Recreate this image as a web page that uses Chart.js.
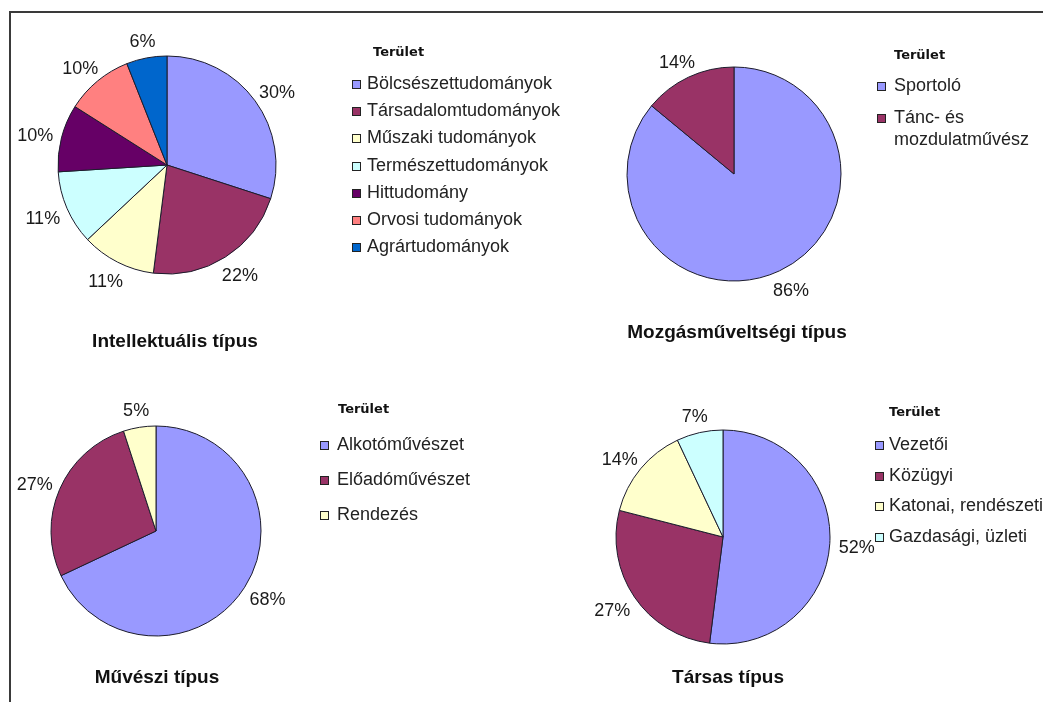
<!DOCTYPE html>
<html>
<head>
<meta charset="utf-8">
<script src="https://cdn.jsdelivr.net/npm/chart.js@4"></script>
<style>
  html, body { margin: 0; padding: 0; background: #fff; }
  body { width: 1043px; height: 702px; position: relative; overflow: hidden; }
  .frame { position: absolute; left: 9px; top: 11px; right: 0; bottom: 0; border-top: 2px solid #3a3a3a; border-left: 2px solid #3a3a3a; }
  canvas { position: absolute; }
</style>
</head>
<body>
<div class="frame"></div>
<canvas id="chart-intellektualis" style="left:0px;top:0px" width="590" height="365"></canvas>
<canvas id="chart-mozgas" style="left:590px;top:0px" width="453" height="365"></canvas>
<canvas id="chart-muveszi" style="left:0px;top:365px" width="560" height="337"></canvas>
<canvas id="chart-tarsas" style="left:560px;top:365px" width="483" height="337"></canvas>
<script>
const legendHeading = "Terület";

const intellektualisLabels = [
  "Bölcsészettudományok",
  "Társadalomtudományok",
  "Műszaki tudományok",
  "Természettudományok",
  "Hittudomány",
  "Orvosi tudományok",
  "Agrártudományok",
];
const intellektualisValues = [30, 22, 11, 11, 10, 10, 6];

const mozgasLabels = ["Sportoló", ["Tánc- és", "mozdulatművész"]];
const mozgasValues = [86, 14];

const muvesziLabels = ["Alkotóművészet", "Előadóművészet", "Rendezés"];
const muvesziValues = [68, 27, 5];

const tarsasLabels = ["Vezetői", "Közügyi", "Katonai, rendészeti", "Gazdasági, üzleti"];
const tarsasValues = [52, 27, 14, 7];

// Excel 2003 default pie palette
const palette = ["#9999FF", "#993366", "#FFFFCC", "#CCFFFF", "#660066", "#FF8080", "#0066CC"];

const FONT = '"Liberation Sans", Arial, sans-serif';

// draws the % labels, the legend and the chart title like the old Excel charts
const excelPie = {
  id: "excelPie",
  afterDraw(chart, args, opts) {
    const ctx = chart.ctx;
    const ds = chart.data.datasets[0];
    const meta = chart.getDatasetMeta(0);
    ctx.save();

    ctx.font = "18px " + FONT;
    ctx.fillStyle = "#1a1a1a";
    ctx.textAlign = "center";
    ctx.textBaseline = "middle";
    meta.data.forEach((arc, i) => {
      const p = arc.getProps(["x", "y", "startAngle", "endAngle", "outerRadius"], true);
      const mid = (p.startAngle + p.endAngle) / 2;
      const cos = Math.cos(mid);
      const sin = Math.sin(mid);
      const text = ds.data[i] + "%";
      const w = ctx.measureText(text).width;
      const d = p.outerRadius + 9;
      ctx.fillText(text, p.x + cos * (d + w / 2), p.y + sin * (d + 10) + 3);
    });

    const lg = opts.legend;
    ctx.textAlign = "left";
    ctx.font = 'bold 13px "DejaVu Sans", Verdana, sans-serif';
    ctx.fillStyle = "#111";
    ctx.fillText(legendHeading, lg.headX, lg.headY);

    ctx.font = "18px " + FONT;
    let y = lg.firstY;
    chart.data.labels.forEach((label, i) => {
      const lines = Array.isArray(label) ? label : [label];
      ctx.fillStyle = ds.backgroundColor[i];
      ctx.fillRect(lg.boxX, Math.round(y) - 4, 9, 9);
      ctx.strokeStyle = "#222";
      ctx.lineWidth = 1;
      ctx.strokeRect(lg.boxX + 0.5, Math.round(y) - 3.5, 8, 8);
      ctx.fillStyle = "#222";
      lines.forEach((line, k) => {
        ctx.fillText(line, lg.textX, y + k * 22);
      });
      y += lg.step + (lines.length - 1) * 22;
    });

    const t = opts.title;
    ctx.textAlign = "center";
    ctx.font = "bold 19px " + FONT;
    ctx.fillStyle = "#111";
    ctx.fillText(t.text, t.x, t.y);

    ctx.restore();
  },
};

function makePie(id, labels, values, cfg) {
  const canvas = document.getElementById(id);
  const ox = parseFloat(canvas.style.left);
  const oy = parseFloat(canvas.style.top);
  const cx = cfg.cx - ox;
  const cy = cfg.cy - oy;
  const half = 115;

  new Chart(canvas, {
    type: "pie",
    data: {
      labels,
      datasets: [
        {
          data: values,
          backgroundColor: palette.slice(0, values.length),
          borderColor: "#1c1c2c",
          borderWidth: 1,
          radius: cfg.r,
        },
      ],
    },
    options: {
      responsive: false,
      animation: false,
      devicePixelRatio: 1,
      layout: {
        padding: {
          left: cx - half,
          top: cy - half,
          right: canvas.width - cx - half,
          bottom: canvas.height - cy - half,
        },
      },
      plugins: {
        legend: { display: false },
        tooltip: { enabled: false },
        excelPie: {
          legend: {
            headX: cfg.legend.headX - ox,
            headY: cfg.legend.headY - oy,
            boxX: cfg.legend.boxX - ox,
            textX: cfg.legend.textX - ox,
            firstY: cfg.legend.firstY - oy,
            step: cfg.legend.step,
          },
          title: { text: cfg.title, x: cfg.titleX - ox, y: cfg.titleY - oy },
        },
      },
    },
    plugins: [excelPie],
  });
}

makePie("chart-intellektualis", intellektualisLabels, intellektualisValues, {
  cx: 167, cy: 165, r: 109,
  legend: { headX: 373, headY: 53, boxX: 352, textX: 367, firstY: 84, step: 27.2 },
  title: "Intellektuális típus", titleX: 175, titleY: 342,
});

makePie("chart-mozgas", mozgasLabels, mozgasValues, {
  cx: 734, cy: 174, r: 107,
  legend: { headX: 894, headY: 56, boxX: 877, textX: 894, firstY: 86, step: 32 },
  title: "Mozgásműveltségi típus", titleX: 737, titleY: 333,
});

makePie("chart-muveszi", muvesziLabels, muvesziValues, {
  cx: 156, cy: 531, r: 105,
  legend: { headX: 338, headY: 410, boxX: 320, textX: 337, firstY: 445, step: 35 },
  title: "Művészi típus", titleX: 157, titleY: 678,
});

makePie("chart-tarsas", tarsasLabels, tarsasValues, {
  cx: 723, cy: 537, r: 107,
  legend: { headX: 889, headY: 413, boxX: 875, textX: 889, firstY: 445, step: 30.7 },
  title: "Társas típus", titleX: 728, titleY: 678,
});
</script>
</body>
</html>
